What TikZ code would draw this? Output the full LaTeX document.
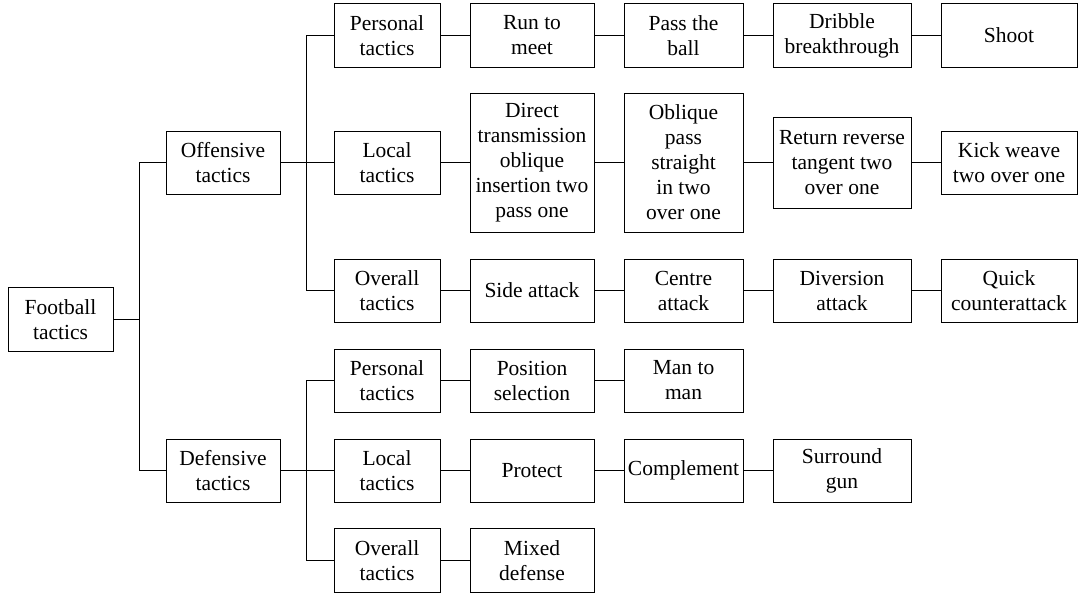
\documentclass[tikz,border=0pt]{standalone}
\usepackage{fontspec}
\setmainfont{Liberation Serif}
\begin{document}
\begin{tikzpicture}[x=1pt,y=-1pt,
  box/.style={draw, line width=1pt, inner sep=0pt, align=center,
    font=\fontsize{21.5}{25}\selectfont},
  conn/.style={line width=1pt}]
\useasboundingbox (0,0) rectangle (1078,595);
% root and level 2
\node[box, minimum width=105pt, minimum height=64pt] (fb) at (60.5,319.5) {Football\\tactics};
\node[box, minimum width=114pt, minimum height=63pt] (off) at (223,162.5) {Offensive\\tactics};
\node[box, minimum width=114pt, minimum height=63pt] (def) at (223,470.5) {Defensive\\tactics};
% offensive rows
\node[box, minimum width=106pt, minimum height=64pt] (oa) at (387,35.5) {Personal\\tactics};
\node[box, minimum width=124pt, minimum height=64pt] (a4) at (532,35.5) {Run to\\meet};
\node[box, minimum width=119pt, minimum height=64pt] (a5) at (683.5,35.5) {Pass the\\ball};
\node[box, minimum width=138pt, minimum height=64pt] (a6) at (842,35.5) {Dribble\\breakthrough};
\node[box, minimum width=136pt, minimum height=64pt] (a7) at (1009,35.5) {Shoot};

\node[box, minimum width=106pt, minimum height=63pt] (ob) at (387,162.5) {Local\\tactics};
\node[box, minimum width=124pt, minimum height=139pt] (b4) at (532,162.5) {Direct\\transmission\\oblique\\insertion two\\pass one};
\node[box, minimum width=119pt, minimum height=139pt] (b5) at (683.5,162.5) {Oblique\\pass\\straight\\in two\\over one};
\node[box, minimum width=138pt, minimum height=91pt] (b6) at (842,162.5) {Return reverse\\tangent two\\over one};
\node[box, minimum width=136pt, minimum height=63pt] (b7) at (1009,162.5) {Kick weave\\two over one};

\node[box, minimum width=106pt, minimum height=63pt] (oc) at (387,290.5) {Overall\\tactics};
\node[box, minimum width=124pt, minimum height=63pt] (c4) at (532,290.5) {Side attack};
\node[box, minimum width=119pt, minimum height=63pt] (c5) at (683.5,290.5) {Centre\\attack};
\node[box, minimum width=138pt, minimum height=63pt] (c6) at (842,290.5) {Diversion\\attack};
\node[box, minimum width=136pt, minimum height=63pt] (c7) at (1009,290.5) {Quick\\counterattack};
% defensive rows
\node[box, minimum width=106pt, minimum height=63pt] (da) at (387,380.5) {Personal\\tactics};
\node[box, minimum width=124pt, minimum height=63pt] (d4) at (532,380.5) {Position\\selection};
\node[box, minimum width=119pt, minimum height=63pt] (d5) at (683.5,380.5) {Man to\\man};

\node[box, minimum width=106pt, minimum height=63pt] (db) at (387,470.5) {Local\\tactics};
\node[box, minimum width=124pt, minimum height=63pt] (e4) at (532,470.5) {Protect};
\node[box, minimum width=119pt, minimum height=63pt] (e5) at (683.5,470.5) {Complement};
\node[box, minimum width=138pt, minimum height=63pt] (e6) at (842,470.5) {Surround\\gun};

\node[box, minimum width=106pt, minimum height=64pt] (dc) at (387,560.5) {Overall\\tactics};
\node[box, minimum width=124pt, minimum height=64pt] (f4) at (532,560.5) {Mixed\\defense};
% junctions
\coordinate (j1) at (139.5,319.5);
\coordinate (j2) at (306.5,162.5);
\coordinate (j3) at (306.5,470.5);
% connectors
\draw[conn] (fb.east) -- (j1);
\draw[conn] (off.west) -| (j1) |- (def.west);
\draw[conn] (off.east) -- (ob.west);
\draw[conn] (oa.west) -| (j2) |- (oc.west);
\draw[conn] (def.east) -- (db.west);
\draw[conn] (da.west) -| (j3) |- (dc.west);
\draw[conn] (oa.east) -- (a4.west);
\draw[conn] (a4.east) -- (a5.west);
\draw[conn] (a5.east) -- (a6.west);
\draw[conn] (a6.east) -- (a7.west);
\draw[conn] (ob.east) -- (b4.west);
\draw[conn] (b4.east) -- (b5.west);
\draw[conn] (b5.east) -- (b6.west);
\draw[conn] (b6.east) -- (b7.west);
\draw[conn] (oc.east) -- (c4.west);
\draw[conn] (c4.east) -- (c5.west);
\draw[conn] (c5.east) -- (c6.west);
\draw[conn] (c6.east) -- (c7.west);
\draw[conn] (da.east) -- (d4.west);
\draw[conn] (d4.east) -- (d5.west);
\draw[conn] (db.east) -- (e4.west);
\draw[conn] (e4.east) -- (e5.west);
\draw[conn] (e5.east) -- (e6.west);
\draw[conn] (dc.east) -- (f4.west);
\end{tikzpicture}
\end{document}
